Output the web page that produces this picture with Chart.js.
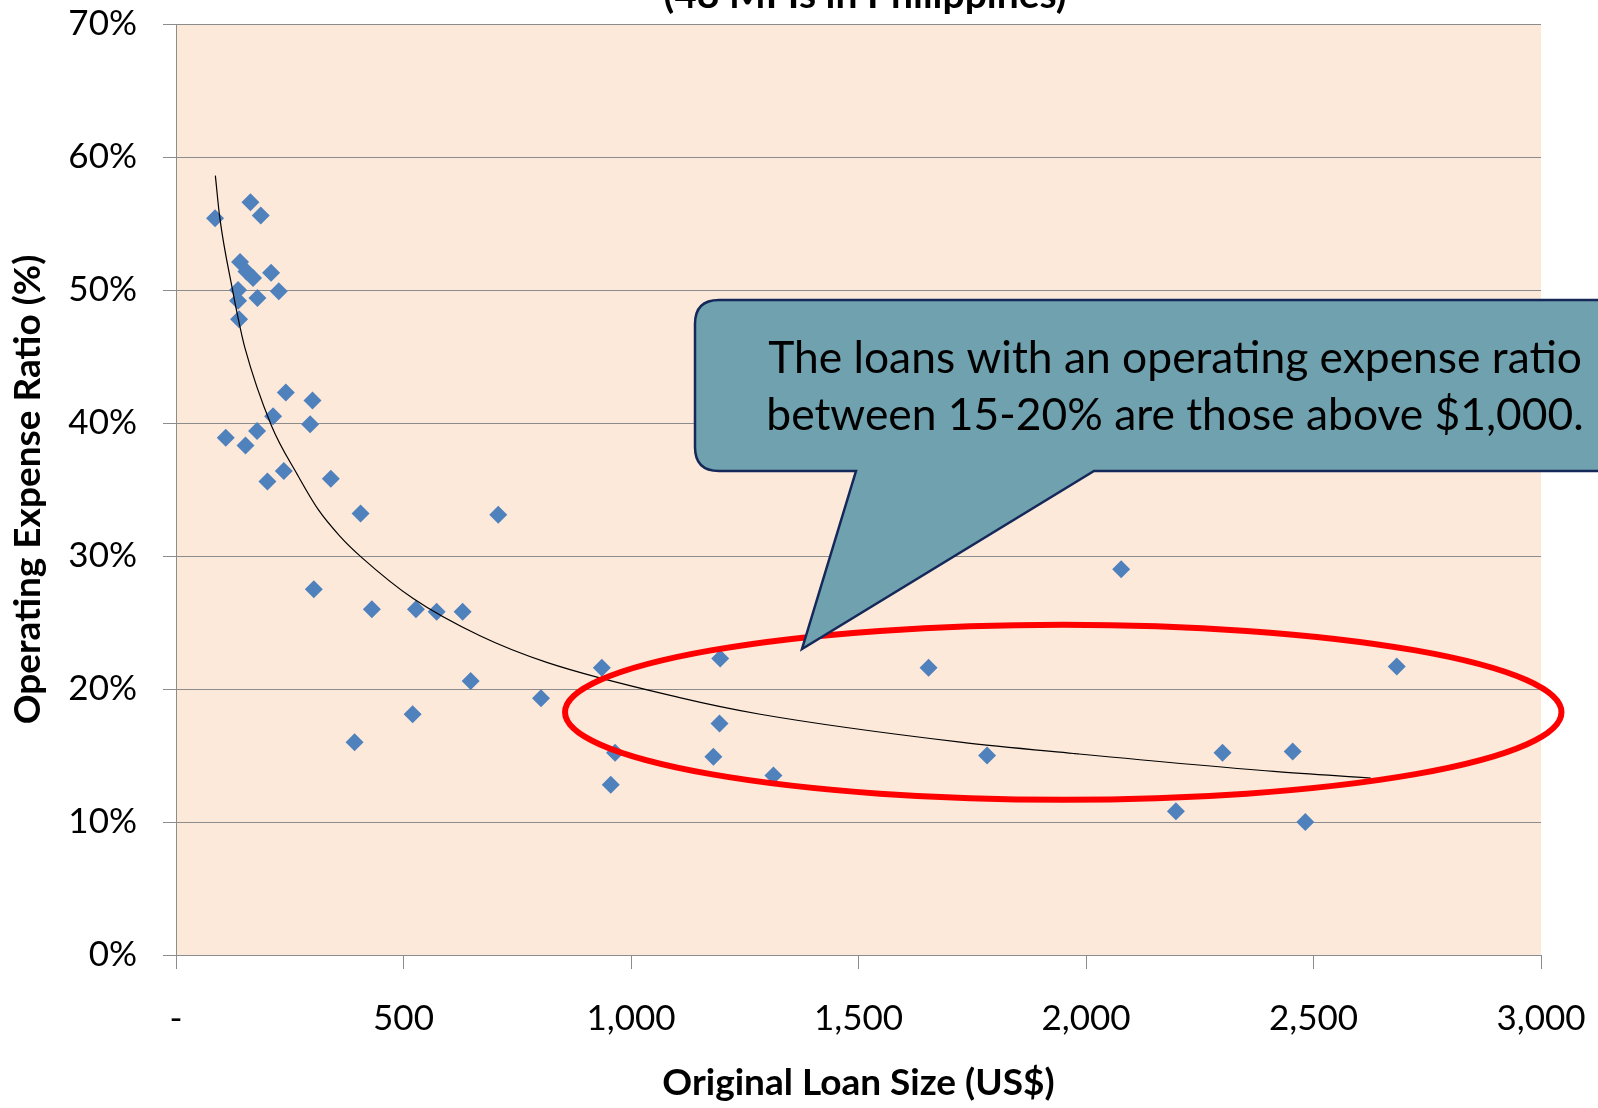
<!DOCTYPE html>
<html>
<head>
<meta charset="utf-8">
<script src="https://cdn.jsdelivr.net/npm/chart.js@4/dist/chart.umd.min.js"></script>
<style>
  html, body { margin: 0; padding: 0; background: #ffffff; }
  #wrap { position: relative; width: 1598px; height: 1108px; }
</style>
</head>
<body>
<div id="wrap"><canvas id="c"></canvas></div>
<script>
// ---- Data ----
const loanSize = [85.8, 163.6, 186.3, 140.8, 154.8, 169.4, 209, 136.4, 136.4, 179, 225.9, 138.6,
  241.3, 300, 213.4, 294.8, 109.3, 178.2, 152.7, 236.9, 201, 340.3, 405.6, 708.3,
  302.9, 430.5, 527.3, 572.8, 630, 935.8, 647.6, 802.2, 520, 392.4, 965, 955.5,
  1196, 1654, 1194.5, 1181, 1313, 2077.4, 1782.6, 2300, 2454.3, 2197.6, 2482, 2683];
const opexRatio = [55.4, 56.6, 55.6, 52.1, 51.4, 50.9, 51.3, 50.0, 49.2, 49.4, 49.9, 47.8,
  42.3, 41.7, 40.5, 39.9, 38.9, 39.4, 38.3, 36.4, 35.6, 35.8, 33.2, 33.1,
  27.5, 26.0, 26.0, 25.8, 25.8, 21.6, 20.6, 19.3, 18.1, 16.0, 15.2, 12.8,
  22.3, 21.6, 17.4, 14.9, 13.5, 29.0, 15.0, 15.2, 15.3, 10.8, 10.0, 21.7];

// trend line as traced on the picture
const trendLoanSize = [86.5, 96, 125.4, 136.4, 151, 209.8, 267, 312.4, 360, 407.8, 521.3, 668, 814.8, 1107, 1284, 1724, 1973, 2413, 2626];
const trendRatio    = [58.6, 55.5, 49.8, 47.9, 45.7, 39.8, 36.1, 33.5, 31.5, 29.9, 26.8, 24.0, 22.0, 19.35, 18.1, 16.0, 15.15, 13.8, 13.3];

const xTickValues = [0, 500, 1000, 1500, 2000, 2500, 3000];
const xTickLabels = ['-', '500', '1,000', '1,500', '2,000', '2,500', '3,000'];
const yTickValues = [0, 10, 20, 30, 40, 50, 60, 70];
const yTickLabels = ['0%', '10%', '20%', '30%', '40%', '50%', '60%', '70%'];

const titleText = '(48 MFIs in Philippines)';
const xAxisTitle = 'Original Loan Size (US$)';
const yAxisTitle = 'Operating Expense Ratio (%)';
const calloutLines = ['The loans with an operating expense ratio', 'between 15-20% are those above $1,000.'];

// ---- Styling ----
const FONT = 'Lato';
Chart.defaults.font.family = FONT;
Chart.defaults.color = '#000000';
const GRID = '#8c8c8c';

function noOverhang(scale) {
  scale.paddingTop = 0; scale.paddingBottom = 0;
  scale.paddingLeft = 0; scale.paddingRight = 0;
}

const bgPlugin = {
  id: 'plotBg',
  beforeDraw(chart) {
    const { ctx, chartArea: a } = chart;
    ctx.save();
    ctx.fillStyle = '#FDE9D9';
    ctx.fillRect(a.left, a.top, a.right - a.left, a.bottom - a.top);
    ctx.restore();
  }
};

const overlayPlugin = {
  id: 'overlay',
  afterDraw(chart) {
    const { ctx } = chart;
    const xs = chart.scales.x, ys = chart.scales.y;
    ctx.save();

    // partially visible title at the very top
    ctx.fillStyle = '#000';
    ctx.font = 'bold 39px ' + FONT;
    ctx.textAlign = 'center';
    ctx.textBaseline = 'alphabetic';
    ctx.fillText(titleText, 865, 8);

    // red ellipse highlighting loans above $1,000
    const cx = xs.getPixelForValue(1950), cy = ys.getPixelForValue(18.25);
    const rx = xs.getPixelForValue(1950 + 1095) - cx;
    const ry = ys.getPixelForValue(18.25) - ys.getPixelForValue(18.25 + 6.58);
    ctx.beginPath();
    ctx.ellipse(cx, cy, rx, ry, 0, 0, Math.PI * 2);
    ctx.strokeStyle = '#FF0000';
    ctx.lineWidth = 6;
    ctx.stroke();

    // callout bubble
    const L = 695, T = 300, R = 1655, B = 471, r = 24;
    const tailL = 856, tailR = 1094, tipX = 802, tipY = 649;
    ctx.beginPath();
    ctx.moveTo(L + r, T);
    ctx.lineTo(R - r, T);
    ctx.quadraticCurveTo(R, T, R, T + r);
    ctx.lineTo(R, B - r);
    ctx.quadraticCurveTo(R, B, R - r, B);
    ctx.lineTo(tailR, B);
    ctx.lineTo(tipX, tipY);
    ctx.lineTo(tailL, B);
    ctx.lineTo(L + r, B);
    ctx.quadraticCurveTo(L, B, L, B - r);
    ctx.lineTo(L, T + r);
    ctx.quadraticCurveTo(L, T, L + r, T);
    ctx.closePath();
    ctx.fillStyle = '#70A1AF';
    ctx.fill();
    ctx.strokeStyle = '#14285A';
    ctx.lineWidth = 2.5;
    ctx.stroke();

    // callout text, fitted to the bubble
    let fs = 40;
    ctx.font = fs + 'px ' + FONT;
    const w = ctx.measureText(calloutLines[0]).width;
    fs = fs * 814 / w;
    ctx.font = fs.toFixed(2) + 'px ' + FONT;
    ctx.fillStyle = '#000';
    ctx.textAlign = 'center';
    ctx.fillText(calloutLines[0], 1175, 373);
    ctx.fillText(calloutLines[1], 1175, 430);

    ctx.restore();
  }
};

new Chart(document.getElementById('c'), {
  type: 'scatter',
  data: {
    datasets: [
      {
        type: 'line',
        label: 'Trend',
        data: trendLoanSize.map((x, i) => ({ x: x, y: trendRatio[i] })),
        borderColor: '#000000',
        borderWidth: 1.2,
        pointRadius: 0,
        fill: false,
        cubicInterpolationMode: 'monotone'
      },
      {
        label: 'MFIs',
        data: loanSize.map((x, i) => ({ x: x, y: opexRatio[i] })),
        pointStyle: 'rectRot',
        pointRadius: 9,
        pointHoverRadius: 9,
        backgroundColor: '#4F81BD',
        borderColor: '#4F81BD',
        borderWidth: 0
      }
    ]
  },
  options: {
    responsive: true,
    maintainAspectRatio: false,
    animation: false,
    events: [],
    layout: { padding: { top: 24, right: 57, left: 0, bottom: 0 } },
    plugins: { legend: { display: false }, tooltip: { enabled: false } },
    scales: {
      x: {
        type: 'linear',
        min: 0, max: 3000,
        afterBuildTicks(scale) { scale.ticks = xTickValues.map(v => ({ value: v })); },
        afterFit(scale) { scale.height = 153; noOverhang(scale); },
        ticks: {
          autoSkip: false, maxRotation: 0, minRotation: 0,
          padding: 29,
          font: { size: 35 },
          color: '#000',
          callback: (v, i) => xTickLabels[i]
        },
        grid: { drawOnChartArea: false, drawTicks: true, tickLength: 14, color: GRID, lineWidth: 1 },
        border: { display: true, color: GRID, width: 1 },
        title: { display: true, text: xAxisTitle, font: { size: 37, weight: 'bold' }, color: '#000', padding: { top: 0, bottom: 3 } }
      },
      y: {
        min: 0, max: 70,
        afterBuildTicks(scale) { scale.ticks = yTickValues.map(v => ({ value: v })); },
        afterFit(scale) { scale.width = 176; noOverhang(scale); },
        ticks: {
          padding: 26,
          font: { size: 35 },
          color: '#000',
          callback: (v, i) => yTickLabels[i]
        },
        grid: { drawOnChartArea: true, drawTicks: true, tickLength: 13, color: GRID, lineWidth: 1 },
        border: { display: true, color: GRID, width: 1 },
        title: { display: true, text: yAxisTitle, font: { size: 37, weight: 'bold' }, color: '#000', padding: { top: 6, bottom: 0 } }
      }
    }
  },
  plugins: [bgPlugin, overlayPlugin]
});
</script>
</body>
</html>
